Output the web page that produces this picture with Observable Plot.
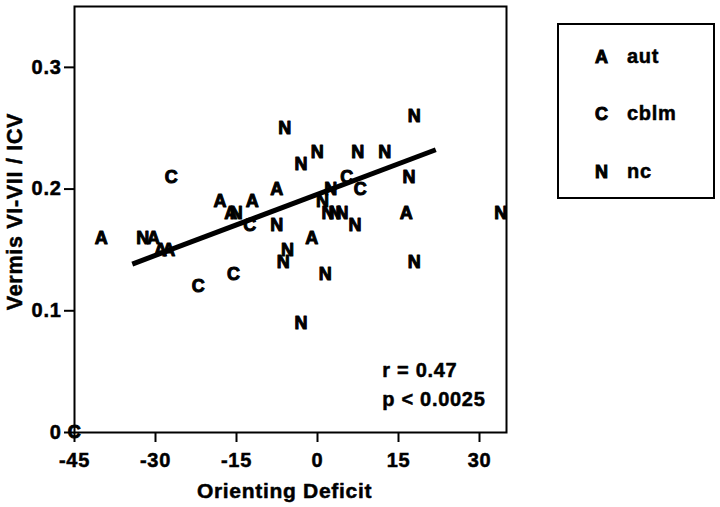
<!DOCTYPE html>
<html><head><meta charset="utf-8">
<script src="https://cdn.jsdelivr.net/npm/d3@7"></script>
<script src="https://cdn.jsdelivr.net/npm/@observablehq/plot@0.6"></script>
<style>
body{margin:0;background:#fff;}
#chart{position:relative;width:720px;height:507px;}
#chart svg text{letter-spacing:0.7px;}
#chart svg g[aria-label$="tick label"] text{stroke:black;stroke-width:0.5px;}
</style></head><body><div id="chart"></div>
<script>
// Groups
const groupCodes = ["A", "C", "N"];
const groupNames = ["aut", "cblm", "nc"];

// aut (A)
const autX = [-40, -30.3, -29, -27.5, -18, -16, -12, -7.5, -1, 16.5];
const autY = [0.16, 0.16, 0.15, 0.15, 0.19, 0.18, 0.19, 0.20, 0.16, 0.18];

// cblm (C)
const cblmX = [-45, -27, -22, -15.5, -12.5, 5.5, 8];
const cblmY = [0.00, 0.21, 0.12, 0.13, 0.17, 0.21, 0.20];

// nc (N)
const ncX = [-32.3, -15, -7.5, -6, -5.5, -6.3, -3, 0, 7.5, 12.5, 18, 17, 2.5, 1, 2, 3.3, 4.6, 7, 1.5, -3, 18, 34];
const ncY = [0.16, 0.18, 0.17, 0.25, 0.15, 0.14, 0.22, 0.23, 0.23, 0.23, 0.26, 0.21, 0.20, 0.19, 0.18, 0.18, 0.18, 0.17, 0.13, 0.09, 0.14, 0.18];

// Fitted regression line end points
const fitX = [-34.3, 21.9];
const fitY = [0.1384, 0.2323];

// Axis ticks
const xTicks = [-45, -30, -15, 0, 15, 30];
const yTicks = [0, 0.1, 0.2, 0.3];
const xLabel = "Orienting Deficit";
const yLabel = "Vermis VI-VII / ICV";

// Statistics annotation
const statLines = ["r = 0.47", "p < 0.0025"];
const statX = [12, 12];
const statY = [0.0507, 0.0274];

const points = [
  ...autX.map((x, i) => ({x, y: autY[i], g: groupCodes[0]})),
  ...cblmX.map((x, i) => ({x, y: cblmY[i], g: groupCodes[1]})),
  ...ncX.map((x, i) => ({x, y: ncY[i], g: groupCodes[2]}))
];
const fit = fitX.map((x, i) => ({x, y: fitY[i]}));
const stats = statLines.map((t, i) => ({t, x: statX[i], y: statY[i]}));

const font = "'Liberation Sans', Arial, Helvetica, sans-serif";

const plot = Plot.plot({
  width: 720,
  height: 507,
  marginLeft: 74,
  marginRight: 214,
  marginTop: 6,
  marginBottom: 75,
  style: {fontFamily: font, fontSize: "20px", fontWeight: "bold", color: "black", background: "white"},
  x: {domain: [-45, 35]},
  y: {domain: [0, 0.35]},
  marks: [
    Plot.axisX({ticks: xTicks, tickSize: 10, tickPadding: 10, tickFormat: d => String(d), label: null, strokeWidth: 2, fontSize: 20, fontWeight: "bold"}),
    Plot.axisY({ticks: yTicks, tickSize: 10, tickPadding: 3, tickFormat: d => String(d), label: null, strokeWidth: 2, fontSize: 20, fontWeight: "bold"}),
    Plot.frame({stroke: "black", strokeWidth: 2}),
    Plot.line(fit, {x: "x", y: "y", stroke: "black", strokeWidth: 5, strokeLinecap: "butt"}),
    Plot.text(points, {x: "x", y: "y", text: "g", fontSize: 18, fontWeight: "bold", fill: "black", stroke: "black", strokeWidth: 1}),
    Plot.text(stats, {x: "x", y: "y", text: "t", textAnchor: "start", lineAnchor: "middle", fontSize: 20, fontWeight: "bold", fill: "black", stroke: "black", strokeWidth: 0.5}),
    Plot.text([xLabel], {frameAnchor: "bottom", textAnchor: "middle", lineAnchor: "middle", dy: 59, dx: -6, fontSize: 21, fontWeight: "bold", fill: "black", stroke: "black", strokeWidth: 0.5}),
    Plot.text([yLabel], {frameAnchor: "left", textAnchor: "middle", lineAnchor: "middle", rotate: -90, dx: -59.5, dy: -8, fontSize: 21.5, fontWeight: "bold", fill: "black", stroke: "black", strokeWidth: 0.5})
  ]
});

document.getElementById("chart").appendChild(plot);

// Legend box
const svg = d3.select(plot);
const lg = svg.append("g").attr("font-family", font).attr("font-weight", "bold").attr("fill", "black").attr("stroke", "black");
lg.append("rect").attr("x", 558).attr("y", 24).attr("width", 156).attr("height", 174)
  .attr("fill", "none").attr("stroke-width", 2);
const rowBase = [62.7, 120, 177.7];
groupCodes.forEach((c, i) => {
  lg.append("text").attr("x", 595).attr("y", rowBase[i]).attr("font-size", 18)
    .attr("stroke-width", 1).attr("text-anchor", "start").text(c);
  lg.append("text").attr("x", 627).attr("y", rowBase[i]).attr("font-size", 20)
    .attr("stroke-width", 0.5).attr("text-anchor", "start").text(groupNames[i]);
});
</script></body></html>
